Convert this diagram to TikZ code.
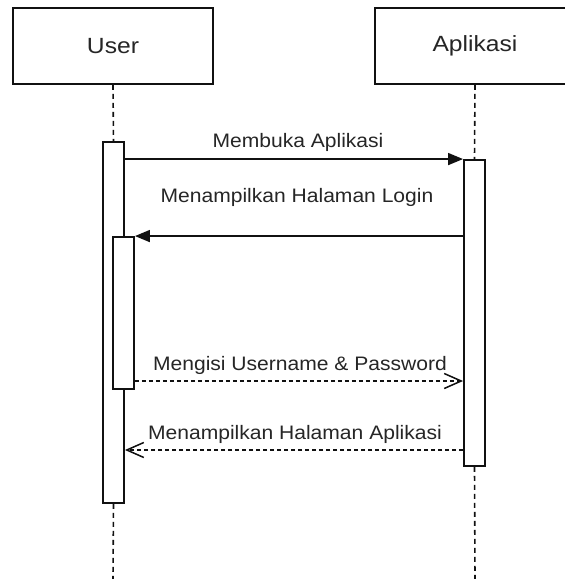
\documentclass[tikz,border=0pt]{standalone}
\usepackage{fontspec}
\setmainfont{Liberation Sans}
\newfontfamily\lblfont[FakeStretch=1.08]{Liberation Sans}
\newfontfamily\hdrfont[FakeStretch=1.12]{Liberation Sans}
\usetikzlibrary{arrows.meta,calc}
\definecolor{txt}{HTML}{262626}
\definecolor{ln}{HTML}{111111}
\begin{document}
\begin{tikzpicture}[x=1pt,y=-1pt,
  actor/.style={draw=ln,line width=1.9pt,fill=white,minimum width=200pt,minimum height=76pt,inner sep=0pt,
    font=\hdrfont\fontsize{22}{26}\selectfont,text=txt},
  actbox/.style={draw=ln,line width=1.9pt,fill=white,minimum width=21pt,inner sep=0pt},
  life/.style={draw=ln,line width=1.6pt,dash pattern=on 5pt off 4pt},
  msg/.style={draw=ln,line width=1.7pt,-{Triangle[length=15pt,width=12pt]}},
  rmsg/.style={draw=ln,line width=1.5pt,dash pattern=on 4pt off 3pt,-{Straight Barb[length=17pt,width=15pt,line width=1.5pt]}},
  lbl/.style={anchor=base,inner sep=0pt,font=\lblfont\fontsize{19.5}{22}\selectfont,text=txt}]
\useasboundingbox (0,0) rectangle (565,579);
\clip (0,0) rectangle (565,579);
\fill[white] (0,0) rectangle (565,579);
% lifeline heads
\node[actor] (user) at (113,46) {User};
\node[actor] (app) at (475,46) {Aplikasi};
% end points of lifelines
\coordinate (userend) at (113,579);
\coordinate (append) at (475,579);
\coordinate (y3) at (0,381);
\coordinate (y4) at (0,450);
% activations
\node[actbox,minimum height=361pt] (actU) at (113.5,322.5) {};
\node[actbox,minimum height=306pt] (actA) at (474.5,313) {};
% lifelines
\draw[life] (user.south) -- (actU.north);
\draw[life] (actU.south) -- (userend);
\draw[life] (app.south) -- (actA.north);
\draw[life] (actA.south) -- (append);
% redraw activations above lifelines
\node[actbox,minimum height=361pt] at (113.5,322.5) {};
\node[actbox,minimum height=306pt] at (474.5,313) {};
\node[actbox,minimum height=152pt] (actU2) at (123.5,313) {};
% messages
\draw[msg] (actU.east |- actA.north) -- (actA.north west);
\draw[msg] (actA.west |- actU2.north) -- (actU2.north east);
\draw[rmsg] (actU2.east |- y3) -- (actA.west |- y3);
\draw[rmsg] (actA.west |- y4) -- (actU.east |- y4);
% labels
\node[lbl] (l1) at (298,147) {Membuka Aplikasi};
\node[lbl] (l2) at (297,202) {Menampilkan Halaman Login};
\node[lbl] (l3) at (300,370) {Mengisi Username \& Password};
\node[lbl] (l4) at (295,439) {Menampilkan Halaman Aplikasi};
\end{tikzpicture}
\end{document}
